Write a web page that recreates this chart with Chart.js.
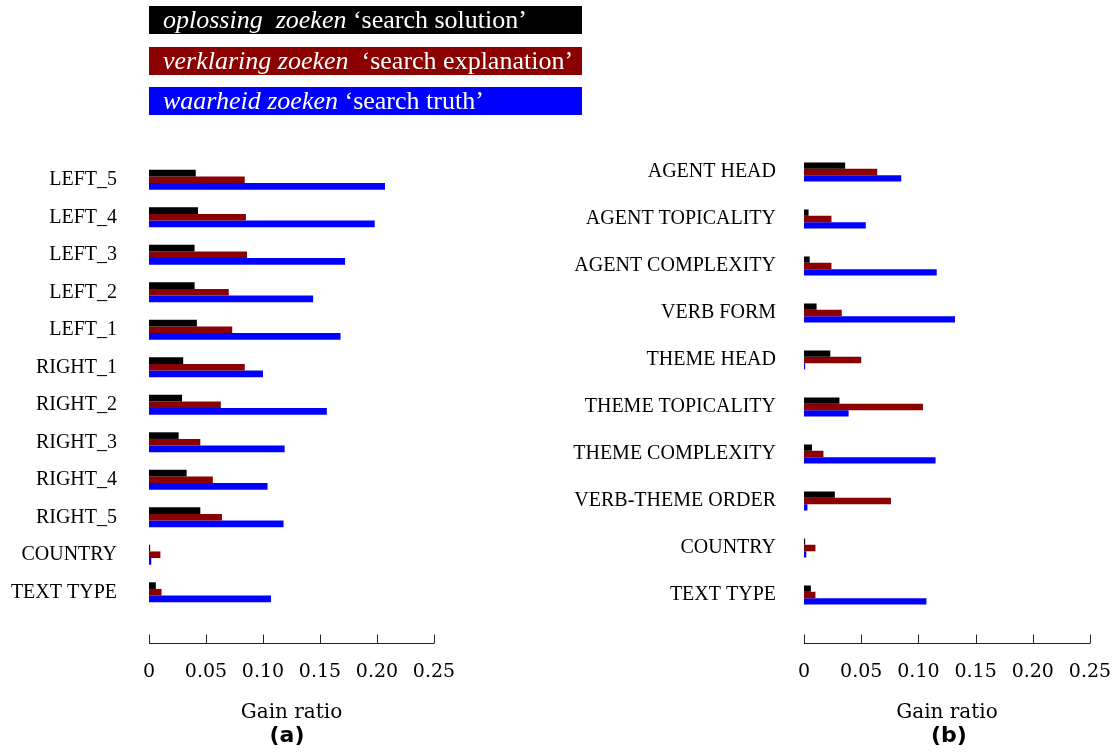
<!DOCTYPE html>
<html>
<head>
<meta charset="utf-8">
<script src="https://cdn.jsdelivr.net/npm/chart.js@4"></script>
<style>
  body { margin: 0; background: #fff; }
  #wrap { position: relative; width: 1115px; height: 754px; overflow: hidden; }
  canvas { position: absolute; top: 0; }
  .key { position: absolute; left: 149px; width: 433px; height: 28px; color: #fff;
         font-family: 'Liberation Serif', serif; font-size: 26px; line-height: 28px;
         white-space: pre; padding-left: 14px; box-sizing: border-box; z-index: 2; }
  .key i { font-style: italic; }
  .panel { position: absolute; font-family: 'DejaVu Sans', sans-serif; font-weight: bold;
           font-size: 22px; width: 80px; text-align: center; top: 722px; }
</style>
</head>
<body>
<div id="wrap">
  <div class="key" style="top:6px;background:#000"><i>oplossing  zoeken</i> ‘search solution’</div>
  <div class="key" style="top:47px;background:#8b0000"><i>verklaring zoeken</i>  ‘search explanation’</div>
  <div class="key" style="top:87px;background:#0000ff"><i>waarheid zoeken</i> ‘search truth’</div>
  <canvas id="chartA" width="470" height="754" style="left:0"></canvas>
  <canvas id="chartB" width="575" height="754" style="left:540px"></canvas>
  <div class="panel" style="left:247px">(a)</div>
  <div class="panel" style="left:909px">(b)</div>
</div>
<script>
// gain ratios per feature
const labelsA = ['LEFT_5', 'LEFT_4', 'LEFT_3', 'LEFT_2', 'LEFT_1', 'RIGHT_1', 'RIGHT_2', 'RIGHT_3', 'RIGHT_4', 'RIGHT_5', 'COUNTRY', 'TEXT TYPE'];
const solutionA    = [0.041, 0.043, 0.040, 0.040, 0.042, 0.030, 0.029, 0.026, 0.033, 0.045, 0.001, 0.006];
const explanationA = [0.084, 0.085, 0.086, 0.070, 0.073, 0.084, 0.063, 0.045, 0.056, 0.064, 0.010, 0.011];
const truthA       = [0.207, 0.198, 0.172, 0.144, 0.168, 0.100, 0.156, 0.119, 0.104, 0.118, 0.002, 0.107];

const labelsB = ['AGENT HEAD', 'AGENT TOPICALITY', 'AGENT COMPLEXITY', 'VERB FORM', 'THEME HEAD', 'THEME TOPICALITY', 'THEME COMPLEXITY', 'VERB-THEME ORDER', 'COUNTRY', 'TEXT TYPE'];
const solutionB    = [0.036, 0.004, 0.005, 0.011, 0.023, 0.031, 0.007, 0.027, 0.001, 0.006];
const explanationB = [0.064, 0.024, 0.024, 0.033, 0.050, 0.104, 0.017, 0.076, 0.010, 0.010];
const truthB       = [0.085, 0.054, 0.116, 0.132, 0.001, 0.039, 0.115, 0.003, 0.002, 0.107];

const xTicks = [0, 0.05, 0.10, 0.15, 0.20, 0.25];
const seriesNames = ['oplossing zoeken', 'verklaring zoeken', 'waarheid zoeken'];
const seriesColors = ['#000000', '#8b0000', '#0000ff'];

// axis line with upward tick marks, drawn a bit below the last bar
const baseAxis = {
  id: 'baseAxis',
  afterDraw(chart, args, opts) {
    const ctx = chart.ctx, x = chart.scales.x;
    const y = opts.y + 0.5;
    ctx.save();
    ctx.strokeStyle = '#222';
    ctx.lineWidth = 1;
    ctx.beginPath();
    ctx.moveTo(x.getPixelForValue(xTicks[0]), y);
    ctx.lineTo(x.getPixelForValue(xTicks[xTicks.length - 1]), y);
    xTicks.forEach(t => {
      const px = Math.round(x.getPixelForValue(t)) + 0.5;
      ctx.moveTo(px, y);
      ctx.lineTo(px, y - 9);
    });
    ctx.stroke();
    ctx.restore();
  }
};

function makeChart(id, labels, sets, s) {
  new Chart(document.getElementById(id), {
    type: 'bar',
    data: {
      labels: labels,
      datasets: sets.map((d, i) => ({
        label: seriesNames[i],
        data: d,
        backgroundColor: seriesColors[i],
        barPercentage: 1,
        categoryPercentage: s.catPct
      }))
    },
    options: {
      indexAxis: 'y',
      responsive: false,
      animation: false,
      layout: { padding: { top: s.top, right: s.right, left: 0, bottom: 0 } },
      plugins: {
        legend: { display: false },
        tooltip: { enabled: false },
        baseAxis: { y: 643 }
      },
      scales: {
        y: {
          grid: { display: false, drawTicks: false },
          border: { display: false },
          afterFit: sc => { sc.width = s.yWidth; },
          ticks: {
            autoSkip: false,
            padding: s.yPad,
            color: '#000',
            font: { family: 'Liberation Serif', size: 20 }
          }
        },
        x: {
          min: 0,
          max: 0.25,
          afterFit: sc => { sc.height = s.xHeight; },
          afterBuildTicks: sc => { sc.ticks = xTicks.map(v => ({ value: v })); },
          // tick marks are drawn by baseAxis; tickLength only pushes the labels down
          grid: { display: false, drawTicks: true, tickLength: s.xGap },
          border: { display: false },
          ticks: {
            padding: 0,
            color: '#000',
            maxRotation: 0,
            font: { family: 'DejaVu Serif', size: 19 },
            callback: v => v === 0 ? '0' : v.toFixed(2)
          },
          title: {
            display: true,
            text: 'Gain ratio',
            color: '#000',
            font: { family: 'DejaVu Serif', size: 20 },
            padding: { top: 0, bottom: 29 }
          }
        }
      }
    },
    plugins: [baseAxis]
  });
}

makeChart('chartA', labelsA, [solutionA, explanationA, truthA],
  { catPct: 0.53, top: 161, right: 36, yWidth: 149, yPad: 32, xHeight: 143, xGap: 50 });
makeChart('chartB', labelsB, [solutionB, explanationB, truthB],
  { catPct: 0.40, top: 148.5, right: 25, yWidth: 264, yPad: 28, xHeight: 135.5, xGap: 42.5 });
</script>
</body>
</html>
